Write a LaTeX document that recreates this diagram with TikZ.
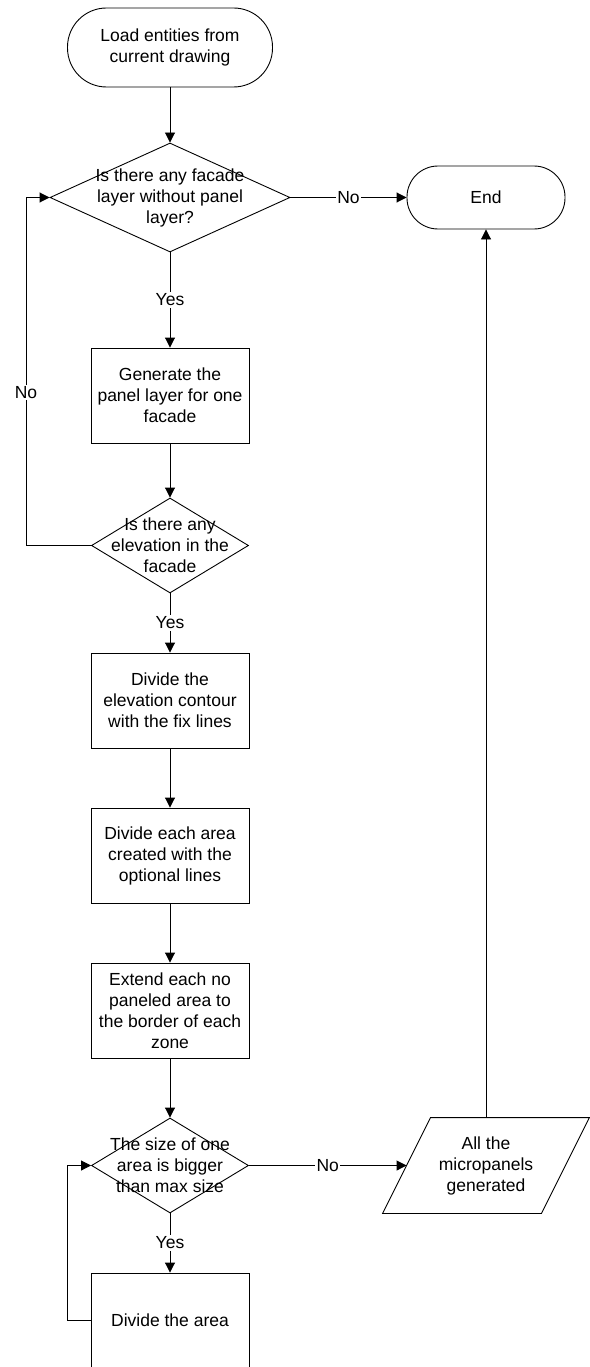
\documentclass[tikz,border=0pt]{standalone}
\usepackage{fontspec}
\setmainfont{Liberation Sans}
\usetikzlibrary{shapes.geometric,arrows.meta}
\begin{document}
\begin{tikzpicture}[x=1pt,y=-1pt,line width=0.9pt,
  every node/.style={font=\fontsize{17.5}{21}\selectfont},
  proc/.style={draw,rectangle,inner sep=0pt,minimum width=158pt,minimum height=95pt,align=center},
  dia/.style={draw,diamond,inner sep=0pt},
  txt/.style={inner sep=0pt,align=center},
  lab/.style={fill=white,inner sep=1.5pt},
  arr/.style={-{Triangle[length=10pt,width=10pt]}}]
\useasboundingbox (0,0) rectangle (589,1367);
% nodes
\node[draw,rounded corners=39pt,minimum width=205pt,minimum height=79pt,inner sep=0pt,align=center] (start) at (170,47.5) {Load entities from\\current drawing};
\node[dia,minimum width=240pt,minimum height=109pt] (d1) at (170,197.5) {};
\node[txt] (d1t) at (d1.center) {Is there any facade\\layer without panel\\layer?};
\node[draw,rounded corners=31pt,minimum width=158pt,minimum height=63pt,inner sep=0pt] (end) at (486,197.5) {End};
\node[proc] (b1) at (170,395.5) {Generate the\\panel layer for one\\facade};
\node[dia,minimum width=157pt,minimum height=95pt] (d2) at (170,545.5) {};
\node[txt] (d2t) at (d2.center) {Is there any\\elevation in the\\facade};
\node[proc] (b2) at (170,700.5) {Divide the\\elevation contour\\with the fix lines};
\node[proc] (b3) at (170,855.5) {Divide each area\\created with the\\optional lines};
\node[proc] (b4) at (170,1010.5) {Extend each no\\paneled area to\\the border of each\\zone};
\node[dia,minimum width=157pt,minimum height=95pt] (d3) at (170,1165.5) {};
\node[txt] (d3t) at (d3.center) {The size of one\\area is bigger\\than max size};
\node[proc] (b5) at (170,1320.5) {Divide the area};
\node[inner sep=0pt,minimum width=158pt,minimum height=95pt,align=center] (par) at (486,1165.5) {All the\\micropanels\\generated};
\draw ([xshift=24pt]par.north west) -- ([xshift=24pt]par.north east) -- ([xshift=-24pt]par.south east) -- ([xshift=-24pt]par.south west) -- cycle;
% connectors
\draw[arr] (start) -- (d1);
\draw[arr] (d1.east) -- node[lab] (no1) {No} (end.west);
\draw[arr] (d1.south) -- node[lab] (yes1) {Yes} (b1.north);
\draw[arr] (b1) -- (d2);
\draw[arr] (d2.west) -- ++(-65,0) |- node[lab,pos=0.22] (no2) {No} (d1.west);
\draw[arr] (d2.south) -- node[lab] (yes2) {Yes} (b2.north);
\draw[arr] (b2) -- (b3);
\draw[arr] (b3) -- (b4);
\draw[arr] (b4) -- (d3);
\draw[arr] (d3.south) -- node[lab] (yes3) {Yes} (b5.north);
\draw[arr] (b5.west) -- ++(-23,0) |- (d3.west);
\draw[arr] (d3.east) -- node[lab] (no3) {No} (par.west);
\draw[arr] (par.north) -- (end.south);
\end{tikzpicture}
\end{document}
